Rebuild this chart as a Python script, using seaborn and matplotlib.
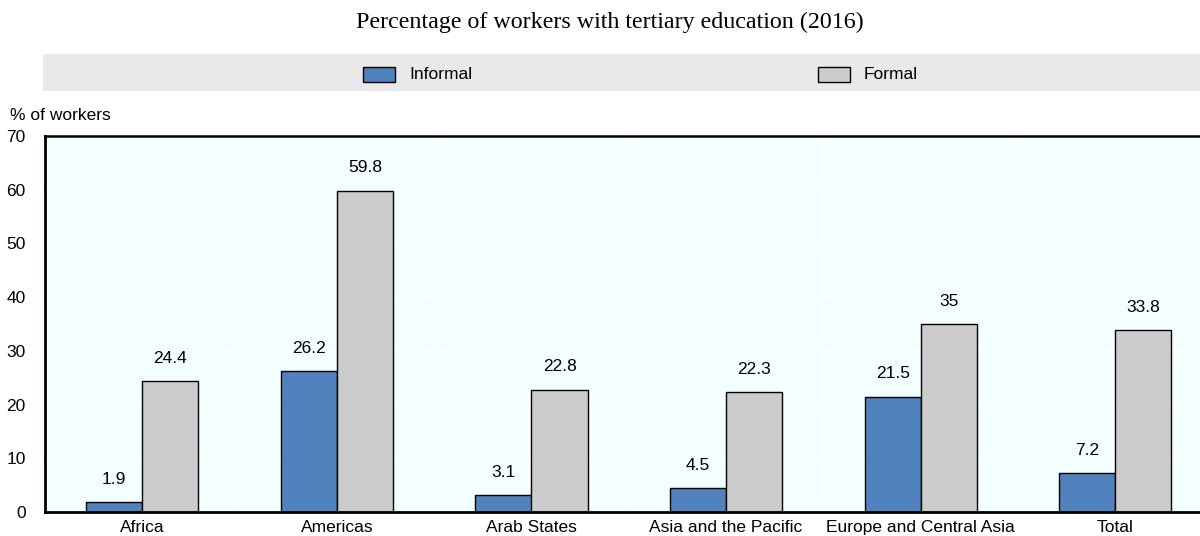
import pandas as pd
import matplotlib.pyplot as plt
import matplotlib.patches as mpatches
import seaborn as sns

regions = ["Africa", "Americas", "Arab States", "Asia and the Pacific",
           "Europe and Central Asia", "Total"]
informal = [1.9, 26.2, 3.1, 4.5, 21.5, 7.2]
formal = [24.4, 59.8, 22.8, 22.3, 35.0, 33.8]
series = ["Informal", "Formal"]
colors = ["#4F81BD", "#CCCCCC"]

data = pd.DataFrame({
    "region": regions * 2,
    "type": ["Informal"] * len(regions) + ["Formal"] * len(regions),
    "value": informal + formal,
})

sns.set_style("white")
plt.rcParams["font.family"] = ["Liberation Sans Narrow", "Liberation Sans", "DejaVu Sans"]
plt.rcParams["text.color"] = "black"
plt.rcParams["xtick.color"] = "black"
plt.rcParams["ytick.color"] = "black"

fig = plt.figure(figsize=(12, 5.36), dpi=100)
ax = fig.add_axes([0.0375, 0.0448, 0.973, 0.7015])
ax.set_facecolor("#F2FEFF")

sns.barplot(data=data, x="region", y="value", hue="type", hue_order=series,
            palette=colors, saturation=1, width=0.576, edgecolor="black",
            linewidth=1, legend=False, ax=ax)

ax.set_ylim(0, 70)
ax.set_xlim(-0.5, len(regions) - 0.5)
ax.set_yticks(range(0, 71, 10))
ax.set_xlabel("")
ax.set_ylabel("")

# white grid and boundary ticks between groups
ax.set_xticks([i - 0.5 for i in range(len(regions) + 1)], minor=True)
ax.grid(True, axis="y", color="white", linewidth=1.2)
ax.grid(True, axis="x", which="minor", color="white", linewidth=1.2)
ax.set_axisbelow(True)
ax.tick_params(axis="x", which="major", length=0, labelsize=12.5, pad=6)
ax.tick_params(axis="x", which="minor", direction="in", length=5, width=1.5, color="black")
ax.tick_params(axis="y", direction="in", length=5, width=1.2, color="black",
               labelsize=12.5, pad=14)

for side in ["left", "bottom"]:
    ax.spines[side].set_linewidth(2)
    ax.spines[side].set_color("black")
ax.spines["top"].set_linewidth(1.8)
ax.spines["top"].set_color("black")
ax.spines["right"].set_visible(False)

for cont in ax.containers:
    for bar in cont:
        h = bar.get_height()
        ax.annotate(f"{h:g}", (bar.get_x() + bar.get_width() / 2, h),
                    xytext=(0, 11), textcoords="offset points",
                    ha="center", va="bottom", fontsize=12.5)

fig.text(10 / 1200, 1 - 115 / 536, "% of workers", ha="left", va="center", fontsize=12.5)

fig.text(0.508, 1 - 22 / 536, "Percentage of workers with tertiary education (2016)",
         ha="center", va="center", fontsize=17.3, family="Liberation Serif")

# legend band
band = mpatches.Rectangle((43 / 1200, 1 - 91 / 536), 1 - 43 / 1200, 37 / 536,
                          transform=fig.transFigure, facecolor="#E9E9E9",
                          edgecolor="none")
fig.patches.append(band)
for label, color, x0 in zip(series, colors, [363, 818]):
    fig.patches.append(mpatches.Rectangle((x0 / 1200, 1 - 82 / 536), 32 / 1200, 15 / 536,
                                          transform=fig.transFigure, facecolor=color,
                                          edgecolor="black", linewidth=1))
    fig.text((x0 + 46) / 1200, 1 - 74.5 / 536, label, ha="left", va="center",
             fontsize=12.5)

fig.savefig("out.png", dpi=100)
